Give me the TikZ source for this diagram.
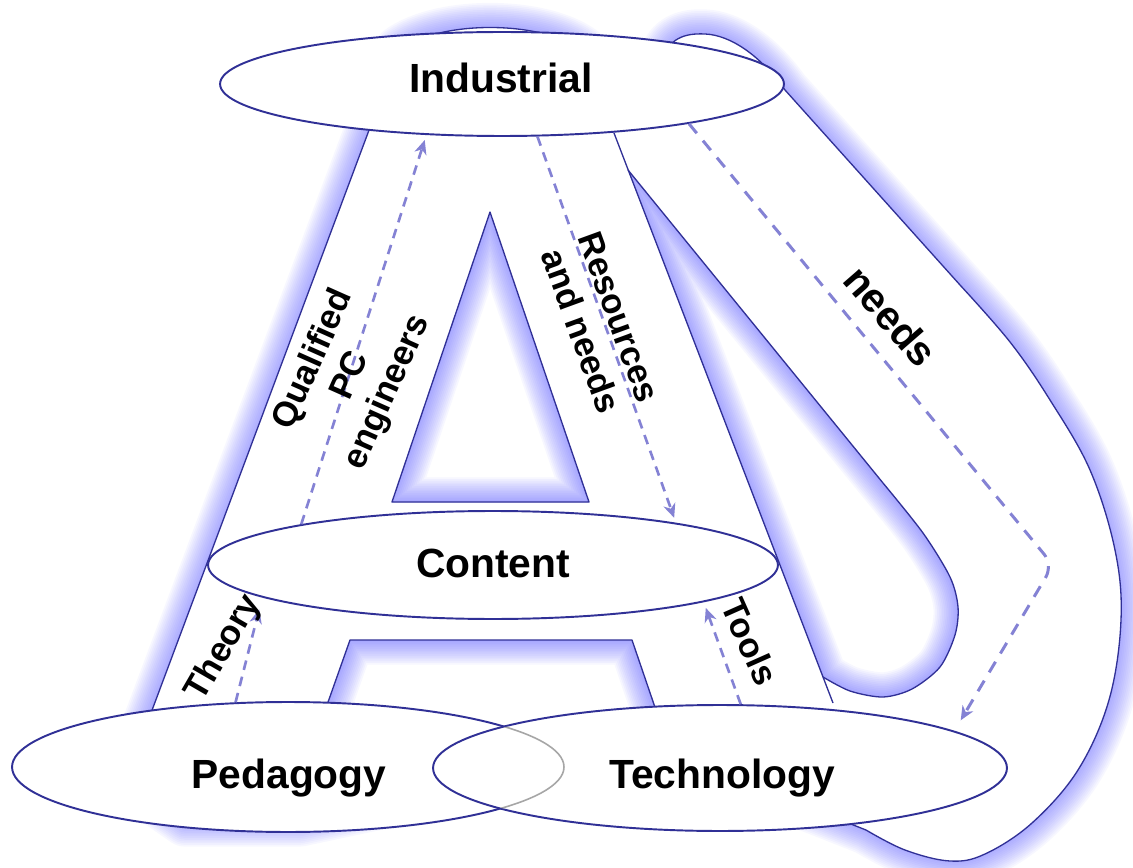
\documentclass[tikz,border=0pt]{standalone}
\usepackage{fontspec}
\setmainfont{Liberation Sans}
\usetikzlibrary{arrows.meta,shapes.geometric}
\definecolor{edgec}{RGB}{48,48,150}
\definecolor{glowc}{RGB}{90,90,255}
\definecolor{flowc}{RGB}{132,130,212}
\newcommand\glowit[1]{\foreach \w in {2,4,...,28}{\draw[draw=glowc,line width=\w pt,draw opacity=0.048,line join=round,use path=#1];}}
\tikzset{
  edge/.style={draw=edgec, line width=0.75pt, line join=round},
  oval/.style={ellipse, draw=edgec, line width=1.1pt, fill=white, inner sep=0pt},
  flow/.style={draw=flowc, line width=1.5pt, dash pattern=on 5.5pt off 4pt, -{Stealth[length=8pt,width=7pt,inset=2.5pt]}},
  big/.style={font=\fontsize{23.2}{27}\selectfont\bfseries},
  small/.style={font=\fontsize{19.8}{23}\selectfont\bfseries, align=center}
}
\begin{document}
\begin{tikzpicture}[x=0.02cm,y=-0.02cm]
\useasboundingbox (0,0) rectangle (1133,868);
% band outline (A + loop)
\path[save path=\sil] (139,745) -- (399,50) .. controls (440,20) and (540,20) .. (582,50) -- (600,85) -- (650,85) -- (662,62) .. controls (668,38) and (685,33) .. (705,34) .. controls (730,35) and (760,55) .. (785,90) -- (960,285) -- plot[smooth, tension=0.6] coordinates {(960,285) (1010,342) (1050,400) (1090,470) (1115,550) (1121,620) (1109,700) (1078,770) (1032,823) (985,854) (950,861) (905,850) (866,830)} -- (790,800) -- (760,780) -- (420,780) -- (380,805) -- (300,822) -- (185,822) -- (139,790) -- cycle;
\path[save path=\tri] (490,212) -- (392,502) -- (589,502) -- cycle;
\path[save path=\trapC] (321,722) -- (350,640) -- (632,640) -- (660,722) -- cycle;
\path[save path=\trapO] (321,722) -- (350,640) -- (632,640) -- (660,722);
\path[save path=\hole] (628,170) -- (823,677) -- plot[smooth] coordinates {(823,677) (850,691) (883,697) (912,689) (940,667) (955,635) (958,607) (950,577) (923,533) (883,483)} -- cycle;
\path[save path=\inner] (628,170) -- (883,483) -- plot[smooth] coordinates {(883,483) (923,533) (950,577) (958,607) (955,635) (940,667) (912,689) (883,697) (850,691) (823,677)};
\glowit{\sil}
\fill[white, use path=\sil];
\begin{scope}\clip[use path=\tri]; \glowit{\tri}\end{scope}
\begin{scope}\clip[use path=\trapC]; \glowit{\trapO}\end{scope}
\begin{scope}\clip[use path=\hole]; \glowit{\hole}\end{scope}
\draw[edge, use path=\sil];
\draw[edge, use path=\tri];
\draw[edge, use path=\trapO];
\draw[edge, use path=\inner];
\draw[edge] (614,133) -- (833,703);
% ellipses
\node[oval, minimum width=11.28cm, minimum height=2.08cm] (ind) at (502,84) {};
\node[oval, minimum width=11.4cm, minimum height=2.16cm] (con) at (493,565) {};
\node[oval, minimum width=11.04cm, minimum height=2.6cm] (ped) at (288,767) {};
\node[oval, minimum width=11.48cm, minimum height=2.52cm] (tec) at (720,768) {};
\begin{scope}
  \clip (720,768) ellipse [x radius=286, y radius=62];
  \draw[black!35, line width=0.9pt] (288,767) ellipse [x radius=276, y radius=65];
\end{scope}
% dashed connectors
\draw[flow, shorten >=3pt] (con.168.7) -- (ind.214.9);
\draw[flow, shorten >=3pt] (ind.304.2) -- (con.13.2);
\coordinate (bend) at (1053,565);
\draw[flow, line width=1.7pt, dash pattern=on 7pt off 5.5pt, rounded corners=8pt, shorten >=7pt] (ind.348.6) -- (bend) -- (tec.9.6);
\draw[flow, shorten >=7pt] (ped.129.7) -- (con.188.3);
\draw[flow, shorten >=3.5pt] (tec.72.4) -- (con.350.5);
% labels
\node[big, anchor=base] (tind) at (501,93) {Industrial};
\node[big, anchor=base] (tcon) at (493,577) {Content};
\node[big, anchor=base] (tped) at (289,788) {Pedagogy};
\node[big, anchor=base] (ttec) at (722,788) {Technology};
\node[small, rotate=66] (tq) at (351,376) {Qualified\\PC\\engineers};
\node[small, rotate=-70] (tr) at (600,324) {Resources\\and needs};
\node[big, rotate=-49] (tn) at (891,316) {needs};
\node[small, rotate=60] (tt) at (224,648) {Theory};
\node[small, rotate=-66] (tto) at (750,642) {Tools};
\end{tikzpicture}
\end{document}
